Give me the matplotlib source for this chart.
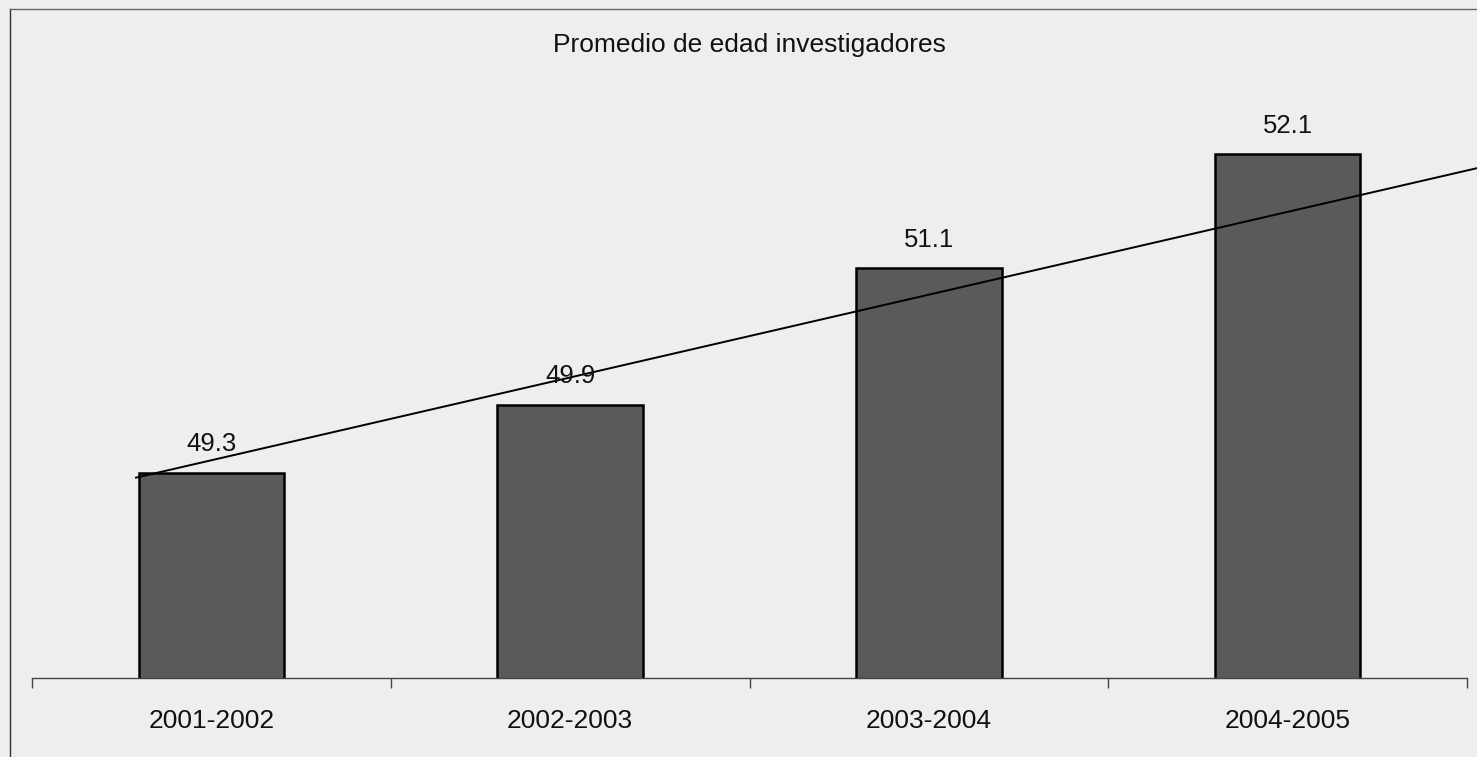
import matplotlib
matplotlib.use("Agg")
import matplotlib.pyplot as plt
from matplotlib.lines import Line2D
import numpy as np

plt.rcParams['font.family'] = ['Liberation Sans', 'DejaVu Sans']

periods = ['2001-2002', '2002-2003', '2003-2004', '2004-2005']
avg_age = [49.3, 49.9, 51.1, 52.1]
# straight trend line drawn across the chart (end points)
trend_x = [-0.21, 3.53]
trend_y = [49.26, 51.98]

bg = '#eeeeee'
fig = plt.figure(figsize=(14.77, 7.57), dpi=100, facecolor=bg)
W, H = 1477, 757
ax = fig.add_axes([32 / W, (H - 678) / H, (1467 - 32) / W, 658 / H])
ax.set_facecolor('none')

x = np.arange(len(periods))
ax.bar(x, avg_age, width=0.405, color='#5a5a5a', edgecolor='black', linewidth=1.8, zorder=2)
ax.plot(trend_x, trend_y, color='black', linewidth=1.4, zorder=3, clip_on=False)

for xi, v in zip(x, avg_age):
    ax.annotate(f'{v:.1f}', (xi, v), xytext=(0, 12), textcoords='offset points',
                ha='center', va='bottom', fontsize=18.5, color='#111111')

ax.set_xlim(-0.5, 3.5)
ax.set_ylim(47.5, 53.28)

ax.set_xticks(np.arange(-0.5, 4, 1.0))
ax.set_xticklabels([])
ax.set_xticks(x, minor=True)
ax.set_xticklabels(periods, minor=True, fontsize=19, color='#111111')
ax.tick_params(axis='x', which='major', length=7, width=1, color='#444444', direction='out')
ax.tick_params(axis='x', which='minor', length=0, pad=22)
ax.set_yticks([])
for s in ['left', 'right', 'top']:
    ax.spines[s].set_visible(False)
ax.spines['bottom'].set_color('#444444')
ax.spines['bottom'].set_linewidth(1)

fig.text(749 / W, 1 - 45 / H, 'Promedio de edad investigadores', ha='center', va='center',
         fontsize=19, color='#111111')

# outer chart frame (left and top edges visible in the scan)
fig.add_artist(Line2D([10 / W, 10 / W], [0, 1 - 9 / H], color='#333333', linewidth=1))
fig.add_artist(Line2D([10 / W, 1], [1 - 9 / H, 1 - 9 / H], color='#666666', linewidth=1))

fig.savefig('out.png', dpi=100, facecolor=bg)
